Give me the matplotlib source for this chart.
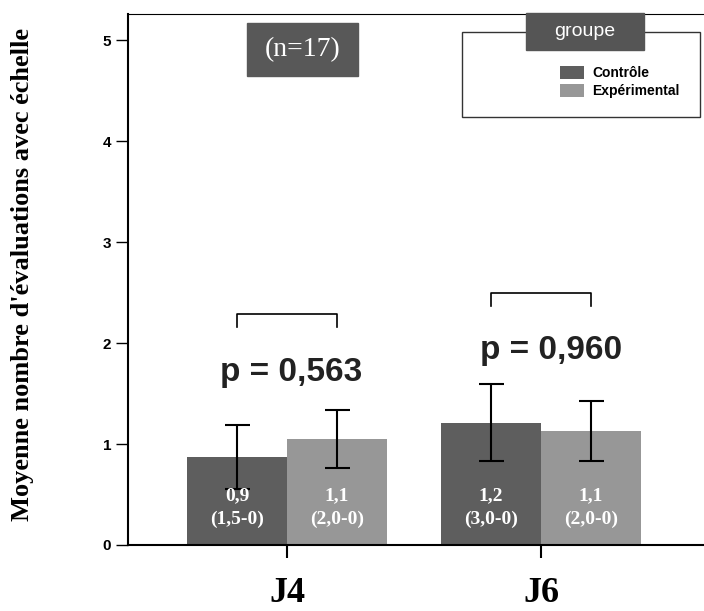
import numpy as np
import matplotlib
matplotlib.use("Agg")
import matplotlib.pyplot as plt
from matplotlib.patches import Rectangle

# data
days = ["J4", "J6"]
groups = ["Contrôle", "Expérimental"]
ctrl_mean = [0.87, 1.21]
exp_mean = [1.05, 1.13]
ctrl_err = [0.32, 0.38]
exp_err = [0.29, 0.30]
ctrl_labels = [("0,9", "(1,5-0)"), ("1,2", "(3,0-0)")]
exp_labels = [("1,1", "(2,0-0)"), ("1,1", "(2,0-0)")]
p_values = ["p = 0,563", "p = 0,960"]
bracket_top = [2.29, 2.50]
p_text_y = [1.62, 1.84]
n_text = "(n=17)"
yticks = [0, 1, 2, 3, 4, 5]

ctrl_color = "#5e5e5e"
exp_color = "#979797"
serif = "Liberation Serif"
sans = "Liberation Sans"

fig = plt.figure(figsize=(7.04, 6.11), dpi=100)
ax = fig.add_axes([128 / 704, 66 / 611, 576 / 704, 531 / 611])

x = np.arange(len(days))
w = 0.394
b1 = ax.bar(x - w / 2, ctrl_mean, w, color=ctrl_color, label=groups[0])
b2 = ax.bar(x + w / 2, exp_mean, w, color=exp_color, label=groups[1])
ax.errorbar(x - w / 2, ctrl_mean, yerr=ctrl_err, fmt="none", ecolor="black",
            elinewidth=1.5, capsize=9, capthick=1.5)
ax.errorbar(x + w / 2, exp_mean, yerr=exp_err, fmt="none", ecolor="black",
            elinewidth=1.5, capsize=9, capthick=1.5)

# values written inside the bars
for i in range(len(days)):
    for xx, (m, r) in [(x[i] - w / 2, ctrl_labels[i]), (x[i] + w / 2, exp_labels[i])]:
        ax.text(xx, 0.49, m, ha="center", va="center", color="white",
                fontsize=14, family=serif, fontweight="bold")
        ax.text(xx, 0.25, r, ha="center", va="center", color="white",
                fontsize=14, family=serif, fontweight="bold")

# brackets and p values
for i in range(len(days)):
    x0, x1 = x[i] - w / 2, x[i] + w / 2
    top = bracket_top[i]
    ax.plot([x0, x0, x1, x1], [top - 0.13, top, top, top - 0.13], color="black", lw=1.2)
    ax.text(x[i] + (0.016 if i == 0 else 0.039), p_text_y[i], p_values[i],
            ha="center", va="baseline", fontsize=24, fontweight="bold",
            family=sans, color="#222222")

ax.set_xlim(-0.626, 1.642)
ax.set_ylim(0, 5.26)
ax.set_xticks(x)
ax.set_xticklabels(days, fontsize=26, fontweight="bold", family=serif)
ax.set_yticks(yticks)
ax.set_yticklabels([str(t) for t in yticks], fontsize=11, fontweight="bold", family=sans)
ax.tick_params(axis="y", length=9, width=1, pad=3)
ax.tick_params(axis="x", length=9, width=1.5, pad=14)
ax.spines["right"].set_visible(False)
ax.spines["left"].set_linewidth(1.5)
ax.spines["bottom"].set_linewidth(1.5)
ax.spines["top"].set_linewidth(0.8)

ax.set_ylabel("Moyenne nombre d'évaluations avec échelle", fontsize=19,
              fontweight="bold", family=serif)
ax.yaxis.set_label_coords(-0.163, 0.51)

# (n=17) box
ax.add_patch(Rectangle(((247 - 128) / 576, (545 - 76) / 531), 111 / 576, 53 / 531,
                       transform=ax.transAxes, color="#585858", zorder=3))
ax.text((303 - 128) / 576, (545 - 50) / 531, n_text, transform=ax.transAxes,
        ha="center", va="center", color="white", fontsize=20, family=serif, zorder=4)

# legend frame and title box
ax.add_patch(Rectangle(((462 - 128) / 576, (545 - 117) / 531), 238 / 576, 85 / 531,
                       transform=ax.transAxes, facecolor="white", edgecolor="#333333",
                       lw=1, zorder=3, clip_on=False))
ax.add_patch(Rectangle(((526 - 128) / 576, (545 - 50) / 531), 118 / 576, 37 / 531,
                       transform=ax.transAxes, color="#555555", zorder=4, clip_on=False))
ax.text((585 - 128) / 576, (545 - 31) / 531, "groupe", transform=ax.transAxes,
        ha="center", va="center", color="white", fontsize=14, family=sans, zorder=5)
leg = ax.legend(handles=[b1, b2], loc="upper left",
                bbox_to_anchor=((560 - 128) / 576, (545 - 66) / 531),
                frameon=False, borderpad=0, borderaxespad=0,
                handlelength=1.73, handleheight=1.1, handletextpad=0.6,
                labelspacing=0.25, prop={"family": sans, "weight": "bold", "size": 10})
leg.set_zorder(6)

fig.savefig("out.png", dpi=100)
